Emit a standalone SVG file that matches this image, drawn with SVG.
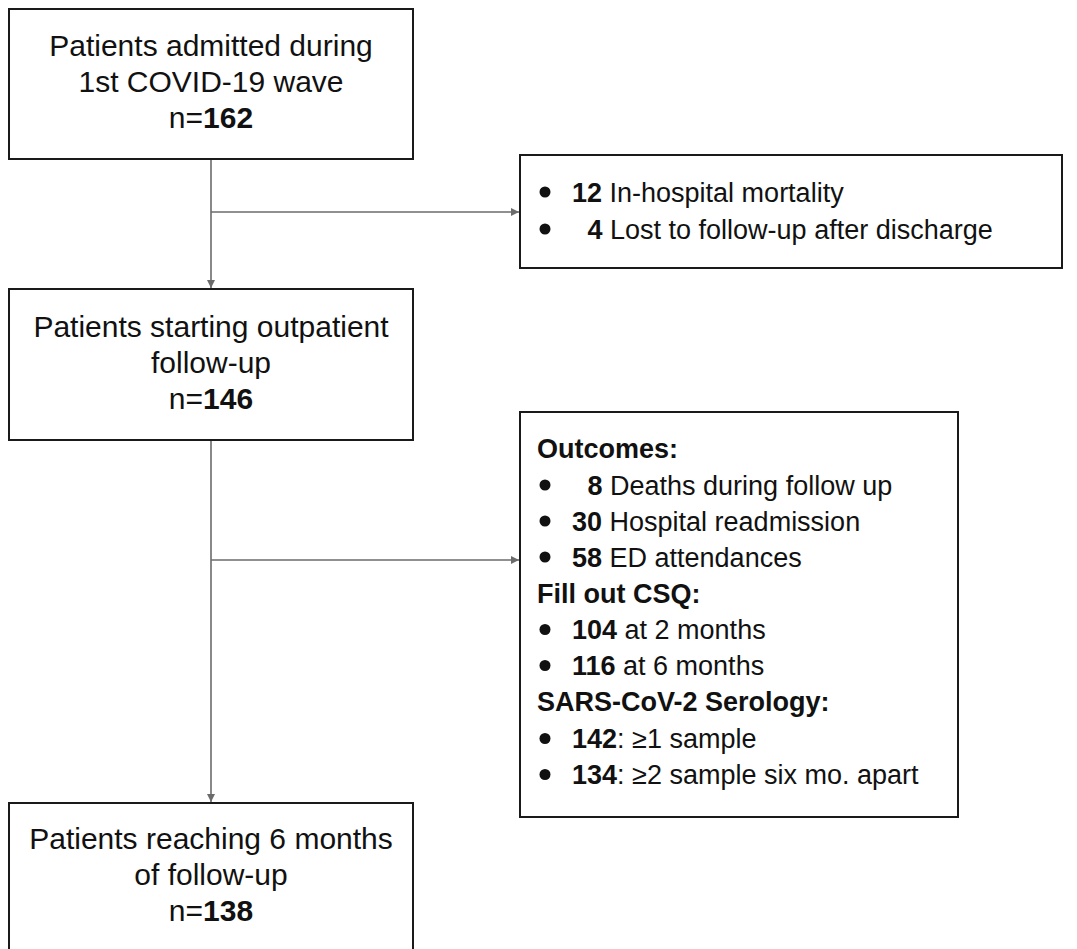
<svg xmlns="http://www.w3.org/2000/svg" width="1077" height="949" viewBox="0 0 1077 949">
<defs>
<marker id="arr" viewBox="0 0 10 10" refX="10" refY="5" markerWidth="12" markerHeight="8" markerUnits="userSpaceOnUse" orient="auto">
<path d="M0,0 L10,5 L0,10 z" fill="#6b6b6b"/>
</marker>
<style>
.box{fill:#fff;stroke:#1a1a1a;stroke-width:2}
.t{font-family:"Liberation Sans",Arial,sans-serif;fill:#111}
.c{font-size:30px;text-anchor:middle}
.l{font-size:27px}
.b{font-weight:bold}
.conn{fill:none;stroke:#6b6b6b;stroke-width:1.6}
</style>
</defs>
<rect width="1077" height="949" fill="#fff"/>
<g id="connectors">
<line class="conn" x1="211" y1="159" x2="211" y2="288" marker-end="url(#arr)"/>
<line class="conn" x1="211" y1="212" x2="519" y2="212" marker-end="url(#arr)"/>
<line class="conn" x1="211" y1="440" x2="211" y2="802" marker-end="url(#arr)"/>
<line class="conn" x1="211" y1="560" x2="519" y2="560" marker-end="url(#arr)"/>
</g>
<g id="admitted">
<rect class="box" x="9" y="9" width="404" height="150"/>
<text class="t c" x="211" y="56">Patients admitted during</text>
<text class="t c" x="211" y="92">1st COVID-19 wave</text>
<text class="t c" x="211" y="128">n=<tspan class="b">162</tspan></text>
</g>
<g id="excluded">
<rect class="box" x="520" y="155" width="542" height="113"/>
<circle cx="545" cy="192" r="5.5" fill="#111"/>
<circle cx="545" cy="229" r="5.5" fill="#111"/>
<text class="t l" x="572" y="202"><tspan class="b">12</tspan> In-hospital mortality</text>
<text class="t l" x="587.5" y="239"><tspan class="b">4</tspan> Lost to follow-up after discharge</text>
</g>
<g id="outpatient">
<rect class="box" x="9" y="289" width="404" height="151"/>
<text class="t c" x="211" y="337">Patients starting outpatient</text>
<text class="t c" x="211" y="373">follow-up</text>
<text class="t c" x="211" y="409">n=<tspan class="b">146</tspan></text>
</g>
<g id="outcomes">
<rect class="box" x="520" y="412" width="438" height="405"/>
<text class="t l b" x="537" y="458">Outcomes:</text>
<circle cx="545" cy="485" r="5.5" fill="#111"/>
<text class="t l" x="587.5" y="494.5"><tspan class="b">8</tspan> Deaths during follow up</text>
<circle cx="545" cy="521" r="5.5" fill="#111"/>
<text class="t l" x="572" y="530.5"><tspan class="b">30</tspan> Hospital readmission</text>
<circle cx="545" cy="557" r="5.5" fill="#111"/>
<text class="t l" x="572" y="566.5"><tspan class="b">58</tspan> ED attendances</text>
<text class="t l b" x="537" y="602.5">Fill out CSQ:</text>
<circle cx="545" cy="629.5" r="5.5" fill="#111"/>
<text class="t l" x="572" y="639"><tspan class="b">104</tspan> at 2 months</text>
<circle cx="545" cy="665.5" r="5.5" fill="#111"/>
<text class="t l" x="572" y="675"><tspan class="b">116</tspan> at 6 months</text>
<text class="t l b" x="537" y="711">SARS-CoV-2 Serology:</text>
<circle cx="545" cy="738.5" r="5.5" fill="#111"/>
<text class="t l" x="572" y="748"><tspan class="b">142</tspan>: ≥1 sample</text>
<circle cx="545" cy="774.5" r="5.5" fill="#111"/>
<text class="t l" x="572" y="784"><tspan class="b">134</tspan>: ≥2 sample six mo. apart</text>
</g>
<g id="six-months">
<rect class="box" x="9" y="803" width="404" height="160"/>
<text class="t c" x="211" y="849">Patients reaching 6 months</text>
<text class="t c" x="211" y="885">of follow-up</text>
<text class="t c" x="211" y="921">n=<tspan class="b">138</tspan></text>
</g>
</svg>
